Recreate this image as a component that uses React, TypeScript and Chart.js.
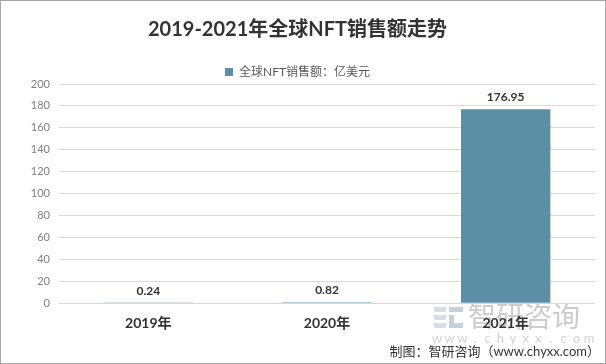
import React, { useEffect, useRef } from "react";
import { Chart, registerables } from "chart.js";

Chart.register(...registerables);

const categories = ["2019年", "2020年", "2021年"];
const salesValues = [0.24, 0.82, 176.95];
const seriesLabel = "全球NFT销售额：亿美元";
const titleText = "2019-2021年全球NFT销售额走势";
const footerText = "制图：智研咨询（www.chyxx.com）";
const yTickMax = 200;
const yTickStep = 20;

const FONT = "Lato, 'Noto Sans CJK SC', sans-serif";
const BAR_COLOR = "#5b8fa6";

const decorPlugin = {
  id: "decor",
  afterInit(chart: any) {
    const legend = chart.legend;
    if (legend) {
      const orig = legend.fit;
      legend.fit = function () {
        orig.call(this);
        this.height -= 4;
      };
    }
  },
  beforeDraw(chart: any) {
    const ctx = chart.ctx;
    ctx.save();
    ctx.fillStyle = "#ffffff";
    ctx.fillRect(0, 0, chart.width, chart.height);
    // watermark logo
    ctx.fillStyle = "#d5dde6";
    ctx.fillRect(434, 307, 12, 5);
    ctx.fillRect(434, 315, 12, 5);
    ctx.fillRect(434, 323, 12, 5);
    ctx.fillStyle = "#c4d2e0";
    ctx.fillRect(449, 307, 14, 5);
    ctx.fillRect(449, 315, 5, 13);
    ctx.fillRect(449, 323, 14, 5);
    ctx.fillStyle = "#cccccc";
    ctx.font = `28px 'Noto Sans CJK SC', sans-serif`;
    ctx.textBaseline = "middle";
    ctx.textAlign = "left";
    ctx.fillText("智研咨询", 468, 316);
    ctx.font = `13px ${FONT}`;
    ctx.fillStyle = "#d3d3d3";
    const www = "www.chyxx.com".split("");
    const step = (588 - 436) / (www.length - 1);
    ctx.textAlign = "center";
    www.forEach((c, i) => ctx.fillText(c, 437 + i * step, 339));
    ctx.restore();
  },
  afterDatasetsDraw(chart: any) {
    const ctx = chart.ctx;
    ctx.save();
    ctx.font = `bold 12px ${FONT}`;
    ctx.fillStyle = "#333333";
    ctx.textAlign = "center";
    ctx.textBaseline = "middle";
    const meta = chart.getDatasetMeta(0);
    meta.data.forEach((bar: any, i: number) => {
      const v = chart.data.datasets[0].data[i] as number;
      ctx.fillText(v.toFixed(2), bar.x, bar.y - 12);
    });
    ctx.restore();
  },
  afterDraw(chart: any) {
    const ctx = chart.ctx;
    ctx.save();
    ctx.font = `13px ${FONT}`;
    ctx.fillStyle = "#333333";
    ctx.textAlign = "right";
    ctx.textBaseline = "middle";
    ctx.fillText(footerText, 600, 352);
    ctx.strokeStyle = "#a6a6a6";
    ctx.lineWidth = 1;
    ctx.strokeRect(0.5, 0.5, chart.width - 1, chart.height - 1);
    ctx.restore();
  },
};

export default function App() {
  const ref = useRef<HTMLCanvasElement | null>(null);
  useEffect(() => {
    document.body.style.margin = "0";
    if (!ref.current) return;
    const chart = new Chart(ref.current, {
      type: "bar",
      data: {
        labels: categories,
        datasets: [
          {
            label: seriesLabel,
            data: salesValues,
            backgroundColor: BAR_COLOR,
            barPercentage: 0.5,
            categoryPercentage: 1,
          },
        ],
      },
      options: {
        animation: false,
        responsive: false,
        maintainAspectRatio: false,
        layout: { padding: { left: 0, right: 11, top: 0, bottom: 20 } },
        plugins: {
          title: {
            display: true,
            text: titleText,
            color: "#333333",
            font: { family: FONT, size: 20, weight: "bold" },
            padding: { top: 18, bottom: 14 },
          },
          legend: {
            display: true,
            labels: {
              color: "#595959",
              font: { family: FONT, size: 12 },
              boxWidth: 8,
              boxHeight: 8,
              padding: 10,
            },
          },
          tooltip: { enabled: false },
        },
        scales: {
          x: {
            grid: { display: false, drawTicks: false },
            border: { display: false },
            ticks: {
              color: "#333333",
              font: { family: FONT, size: 14, weight: "bold" },
              padding: 12,
            },
          },
          y: {
            min: 0,
            max: yTickMax,
            grid: { color: "#d9d9d9", drawTicks: false },
            border: { display: false },
            ticks: {
              stepSize: yTickStep,
              color: "#7f7f7f",
              font: { family: FONT, size: 11 },
              padding: 9,
            },
            afterFit(scale: any) {
              scale.width = 59;
            },
          },
        },
      },
      plugins: [decorPlugin],
    });
    return () => chart.destroy();
  }, []);
  return (
    <div style={{ width: 606, height: 364 }}>
      <canvas ref={ref} width={606} height={364} style={{ display: "block" }} />
    </div>
  );
}
